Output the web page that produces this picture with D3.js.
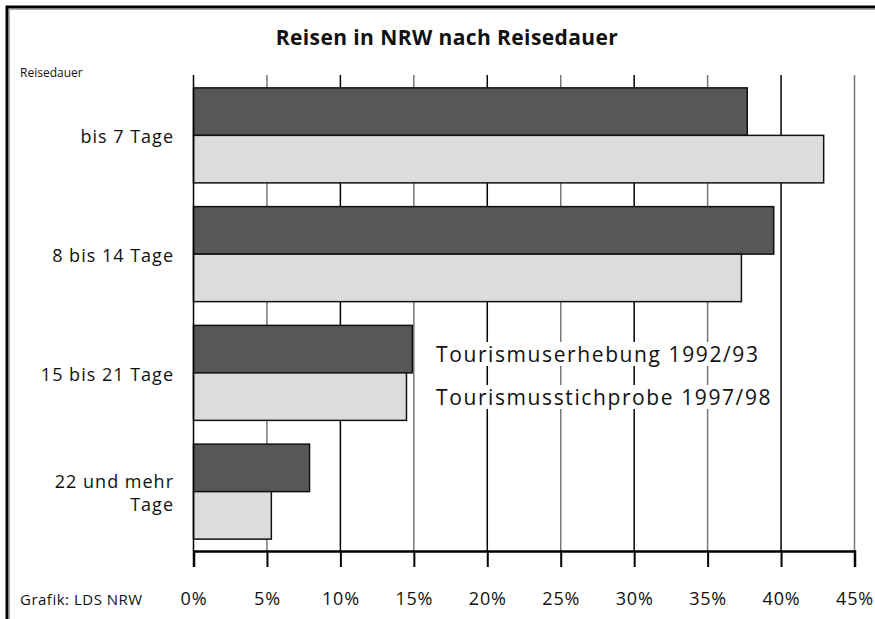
<!DOCTYPE html>
<html>
<head>
<meta charset="utf-8">
<script src="https://cdn.jsdelivr.net/npm/d3@7"></script>
<style>
  body { margin: 0; background: #fff; }
  text { font-family: "Open Sans", sans-serif; fill: #111; }
</style>
</head>
<body>
<div id="chart"></div>
<script>
// Data
var categories = ["bis 7 Tage", "8 bis 14 Tage", "15 bis 21 Tage", "22 und mehr Tage"];
var seriesNames = ["Tourismuserhebung 1992/93", "Tourismusstichprobe 1997/98"];
var values1992 = [37.7, 39.5, 14.9, 7.9];
var values1997 = [42.9, 37.3, 14.5, 5.3];
var tickValues = [0, 5, 10, 15, 20, 25, 30, 35, 40, 45];

var svgWidth = 875;
var svgHeight = 619;

var svg = d3.select("#chart")
  .append("svg")
  .attr("width", svgWidth)
  .attr("height", svgHeight);

// frame
svg.append("rect")
  .attr("x", 7).attr("y", 7)
  .attr("width", 900).attr("height", 650)
  .attr("fill", "none")
  .attr("stroke", "#000")
  .attr("stroke-width", 3);
svg.append("rect")
  .attr("x", 9.5).attr("y", 9.5)
  .attr("width", 900).attr("height", 650)
  .attr("fill", "none")
  .attr("stroke", "#aaa")
  .attr("stroke-width", 1);

// title
svg.append("text")
  .attr("x", 447).attr("y", 45)
  .attr("text-anchor", "middle")
  .style("font-size", "21px")
  .style("font-weight", "bold")
  .style("letter-spacing", "0.4px")
  .text("Reisen in NRW nach Reisedauer");

svg.append("text")
  .attr("x", 20).attr("y", 77)
  .style("font-size", "12px")
  .text("Reisedauer");

svg.append("text")
  .attr("x", 20).attr("y", 605)
  .style("font-size", "15px")
  .style("letter-spacing", "0.5px")
  .text("Grafik: LDS NRW");

// scales
var xScale = d3.scaleLinear()
  .domain([0, 45])
  .range([193.5, 854.5]);

var yScale = d3.scaleBand()
  .domain(categories)
  .range([76, 551])
  .paddingInner(0.2)
  .paddingOuter(0.1);

var subScale = d3.scaleBand()
  .domain(seriesNames)
  .range([0, yScale.bandwidth()]);

var colors = ["#575757", "#dcdcdc"];

// grid lines
svg.append("g")
  .selectAll("line")
  .data(tickValues.slice(1))
  .enter()
  .append("line")
  .attr("x1", d => xScale(d))
  .attr("x2", d => xScale(d))
  .attr("y1", 75)
  .attr("y2", 551)
  .attr("stroke", d => d % 10 === 0 ? "#000" : "#777")
  .attr("stroke-width", 1.5);

// bars
var rows = categories.map((c, i) => ({ cat: c, vals: [values1992[i], values1997[i]] }));

var groups = svg.append("g")
  .selectAll("g")
  .data(rows)
  .enter()
  .append("g")
  .attr("transform", d => `translate(0, ${yScale(d.cat)})`);

groups.selectAll("rect")
  .data(d => d.vals.map((v, j) => ({ name: seriesNames[j], value: v, idx: j })))
  .enter()
  .append("rect")
  .attr("x", xScale(0))
  .attr("y", d => subScale(d.name))
  .attr("width", d => xScale(d.value) - xScale(0))
  .attr("height", subScale.bandwidth())
  .attr("fill", d => colors[d.idx])
  .attr("stroke", "#111")
  .attr("stroke-width", 1.5);

// y axis line
svg.append("line")
  .attr("x1", xScale(0)).attr("x2", xScale(0))
  .attr("y1", 75).attr("y2", 551)
  .attr("stroke", "#000")
  .attr("stroke-width", 1.5);

// category labels
var labelGroup = svg.append("g");
categories.forEach(function(c) {
  var cy = yScale(c) + yScale.bandwidth() / 2;
  var t = labelGroup.append("text")
    .attr("text-anchor", "end")
    .style("font-size", "18px")
    .style("letter-spacing", "1px");
  if (c === "22 und mehr Tage") {
    t.append("tspan").attr("x", 174).attr("y", cy - 4).text("22 und mehr");
    t.append("tspan").attr("x", 174).attr("y", cy + 19).text("Tage");
  } else {
    t.attr("x", 174).attr("y", cy + 8).text(c);
  }
});

// x axis
var bottomAxis = d3.axisBottom(xScale)
  .tickValues(tickValues)
  .tickSize(16)
  .tickPadding(25)
  .tickFormat(d => d + "%");

var xAxis = svg.append("g")
  .attr("transform", "translate(0, 551)")
  .call(bottomAxis);

xAxis.select(".domain").attr("stroke", "#000").attr("stroke-width", 2.5);
xAxis.selectAll(".tick line").attr("stroke", "#000").attr("stroke-width", 2);
xAxis.selectAll(".tick text")
  .style("font-size", "18px")
  .style("letter-spacing", "0.8px")
  .style("font-family", "'Open Sans', sans-serif")
  .attr("fill", "#111");

// legend labels with white background
var legendY = [362, 405];
seriesNames.forEach(function(name, i) {
  var g = svg.append("g");
  var bg = g.append("rect").attr("fill", "#fff");
  var t = g.append("text")
    .attr("x", 436).attr("y", legendY[i])
    .style("font-size", "21px")
    .style("letter-spacing", "1.6px")
    .text(name);
  var bb = t.node().getBBox();
  bg.attr("x", bb.x - 2).attr("y", bb.y + 2)
    .attr("width", bb.width + 4).attr("height", bb.height - 4);
});
</script>
</body>
</html>
